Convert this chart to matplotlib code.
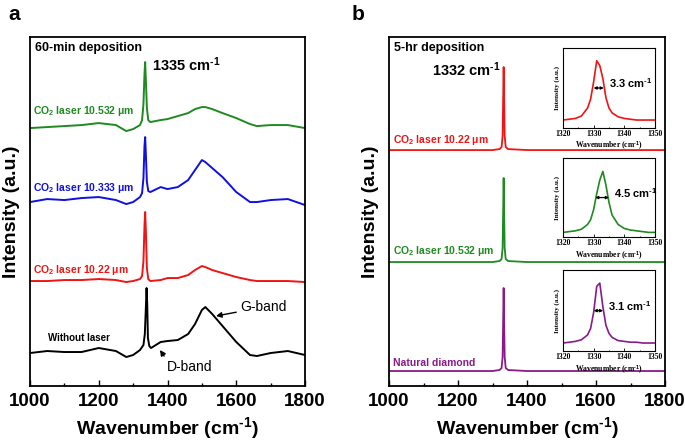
import matplotlib
matplotlib.use("Agg")
import matplotlib.pyplot as plt
from matplotlib.ticker import MultipleLocator

plt.rcParams['font.family'] = ['Liberation Sans', 'DejaVu Sans']
plt.rcParams['font.weight'] = 'bold'
plt.rcParams['mathtext.fontset'] = 'custom'
plt.rcParams['mathtext.rm'] = 'Liberation Sans:bold'
plt.rcParams['mathtext.it'] = 'Liberation Sans:bold'
plt.rcParams['mathtext.bf'] = 'Liberation Sans:bold'
plt.rcParams['mathtext.default'] = 'rm'

# ---------------- Panel a data (60-min deposition) ----------------
x_a = [1000, 1050, 1100, 1150, 1200, 1250, 1280, 1300, 1320, 1326, 1330, 1333,
       1335, 1337, 1340, 1344, 1350, 1380, 1400, 1430, 1460, 1480, 1500, 1510,
       1530, 1560, 1600, 1640, 1660, 1700, 1750, 1800]
x_black = [1000, 1050, 1100, 1150, 1200, 1250, 1280, 1300, 1320, 1330, 1334, 1337,
           1339, 1341, 1343, 1347, 1352, 1380, 1400, 1430, 1460, 1480, 1500, 1510,
           1530, 1560, 1600, 1640, 1660, 1700, 1750, 1800]
y_without = [33, 35, 34, 34, 38, 35, 29, 31, 36, 41, 52, 78, 98, 82, 48, 40, 38, 44, 45,
             46, 52, 62, 76, 79, 72, 60, 44, 31, 30, 33, 35, 31]
y_1022 = [105, 105, 106, 106, 107, 106, 104, 105, 107, 110, 125, 160, 174, 155, 118,
          107, 105, 106, 108, 108, 111, 116, 120, 119, 116, 113, 109, 106, 105, 105, 105, 104]
y_10333 = [184, 187, 186, 188, 189, 186, 182, 184, 189, 193, 208, 240, 249, 232, 204,
           195, 194, 199, 197, 199, 206, 216, 226, 224, 218, 209, 194, 184, 184, 186, 187, 181]
y_10532 = [258, 259, 260, 261, 263, 261, 255, 257, 261, 266, 282, 312, 324, 306, 278,
           266, 264, 266, 267, 270, 273, 277, 279, 279, 277, 273, 268, 262, 260, 261, 261, 258]

# ---------------- Panel b data (5-hr deposition) ----------------
x_b = [1000, 1100, 1200, 1300, 1320, 1326, 1329, 1330.5, 1332, 1333.5, 1335, 1338,
       1345, 1400, 1500, 1600, 1700, 1800]
y_b_1022 = [236, 236, 236, 236, 237, 239, 250, 285, 319, 285, 250, 239, 237, 236, 236, 236, 236, 236]
y_b_10532 = [124, 124, 124, 124, 125, 127, 138, 173, 208, 173, 138, 127, 125, 124, 124, 124, 124, 124]
y_b_natural = [15, 15, 15, 15, 16, 18, 29, 63, 98, 63, 29, 18, 16, 15, 15, 15, 15, 15]

# ---------------- Insets (normalized intensity) ----------------
x_in = [1320, 1322, 1324, 1326, 1328, 1329, 1330, 1331, 1332, 1333, 1334, 1335,
        1336, 1338, 1340, 1342, 1344, 1346, 1348, 1350]
in_1022 = [0.10, 0.11, 0.12, 0.15, 0.25, 0.36, 0.58, 0.84, 0.78, 0.62, 0.38, 0.25,
           0.19, 0.14, 0.12, 0.11, 0.10, 0.10, 0.10, 0.10]
in_10532 = [0.06, 0.07, 0.08, 0.10, 0.16, 0.22, 0.35, 0.55, 0.72, 0.83, 0.66, 0.44,
            0.28, 0.16, 0.11, 0.09, 0.08, 0.07, 0.06, 0.06]
in_natural = [0.10, 0.11, 0.12, 0.14, 0.20, 0.28, 0.48, 0.80, 0.84, 0.55, 0.32, 0.22,
              0.17, 0.13, 0.12, 0.11, 0.11, 0.10, 0.10, 0.10]
fwhm_1022 = (1330.0, 1333.3)
fwhm_10532 = (1330.5, 1335.0)
fwhm_natural = (1330.0, 1333.1)
fwhm_labels = ["3.3 cm$^{\u2010 1}$", "4.5 cm$^{\u2010 1}$", "3.1 cm$^{\u2010 1}$"]

xticks_main = [1000, 1200, 1400, 1600, 1800]
xticks_inset = [1320, 1330, 1340, 1350]

GREEN = '#1f8a1f'
BLUE = '#1010e0'
RED = '#f01414'
PURPLE = '#8a1a8a'

SUP = "$^{\u2010 1}$"

fig = plt.figure(figsize=(6.85, 4.4), dpi=100)
axa = fig.add_axes([0.0438, 0.1227, 0.4015, 0.793])
axb = fig.add_axes([0.568, 0.1227, 0.403, 0.793])


def style_main(ax):
    ax.set_xlim(1000, 1800)
    ax.set_ylim(0, 349)
    ax.set_xticks(xticks_main)
    ax.xaxis.set_minor_locator(MultipleLocator(100))
    ax.set_yticks([])
    ax.tick_params(axis='x', which='major', direction='in', length=4, width=1,
                   labelsize=13.5, pad=5)
    ax.tick_params(axis='x', which='minor', direction='in', length=2.5, width=1)
    for lab in ax.get_xticklabels():
        lab.set_fontweight('bold')
    for s in ax.spines.values():
        s.set_linewidth(1.3)
    ax.set_xlabel('Wavenumber (cm' + SUP + ')', fontsize=14, fontweight='bold', labelpad=4)
    ax.set_ylabel('Intensity (a.u.)', fontsize=14, fontweight='bold', labelpad=7)


# Panel a
axa.plot(x_black, y_without, color='black', lw=1.4)
axa.plot(x_a, y_1022, color=RED, lw=1.4)
axa.plot(x_a, y_10333, color=BLUE, lw=1.4)
axa.plot(x_a, y_10532, color=GREEN, lw=1.4)
style_main(axa)

axa.text(0.018, 0.985, '60-min deposition', transform=axa.transAxes, ha='left', va='top',
         fontsize=9, fontweight='bold')
axa.text(1355, 321, '1335 cm' + SUP, ha='left', va='center', fontsize=10.5, fontweight='bold')
axa.text(1010, 275, 'CO$_2$ laser 10.532 μm', color=GREEN, ha='left', va='center',
         fontsize=7.5, fontweight='bold')
axa.text(1010, 198, 'CO$_2$ laser 10.333 μm', color=BLUE, ha='left', va='center',
         fontsize=7.5, fontweight='bold')
axa.text(1010, 116, 'CO$_2$ laser 10.22 μm', color=RED, ha='left', va='center',
         fontsize=7.5, fontweight='bold')
axa.text(1052, 48, 'Without laser', color='black', ha='left', va='center',
         fontsize=7, fontweight='bold')
axa.annotate('G-band', xy=(1541, 70), xytext=(1612, 79), ha='left', va='center',
             fontsize=10, fontweight='normal',
             arrowprops=dict(arrowstyle='-|>', color='black', lw=1, shrinkA=1, shrinkB=0,
                             mutation_scale=8))
axa.annotate('D-band', xy=(1378, 36), xytext=(1398, 19), ha='left', va='center',
             fontsize=10, fontweight='normal',
             arrowprops=dict(arrowstyle='-|>', color='black', lw=1, shrinkA=1, shrinkB=0,
                             mutation_scale=8, relpos=(0.0, 1.0)))

# Panel b
axb.plot(x_b, y_b_1022, color=RED, lw=1.3)
axb.plot(x_b, y_b_10532, color=GREEN, lw=1.3)
axb.plot(x_b, y_b_natural, color=PURPLE, lw=1.3)
style_main(axb)
axb.text(0.018, 0.985, '5-hr deposition', transform=axb.transAxes, ha='left', va='top',
         fontsize=9, fontweight='bold')
axb.text(1125, 316, '1332 cm' + SUP, ha='left', va='center', fontsize=10.5, fontweight='bold')
axb.text(1012, 246, 'CO$_2$ laser 10.22 μm', color=RED, ha='left', va='center',
         fontsize=7.5, fontweight='bold')
axb.text(1012, 135, 'CO$_2$ laser 10.532 μm', color=GREEN, ha='left', va='center',
         fontsize=7.5, fontweight='bold')
axb.text(1012, 23, 'Natural diamond', color=PURPLE, ha='left', va='center',
         fontsize=7.5, fontweight='bold')

# Insets
inset_specs = [
    ([0.822, 0.709, 0.134, 0.182], in_1022, RED, fwhm_1022, fwhm_labels[0]),
    ([0.822, 0.461, 0.134, 0.180], in_10532, GREEN, fwhm_10532, fwhm_labels[1]),
    ([0.822, 0.202, 0.134, 0.184], in_natural, PURPLE, fwhm_natural, fwhm_labels[2]),
]
serif = ['Liberation Serif', 'DejaVu Serif']
for rect, ydat, col, (f1, f2), lab in inset_specs:
    ax = fig.add_axes(rect)
    ax.plot(x_in, ydat, color=col, lw=1.2)
    ax.set_xlim(1320, 1350)
    ax.set_ylim(0, 1)
    ax.set_xticks(xticks_inset)
    ax.xaxis.set_minor_locator(MultipleLocator(5))
    ax.set_yticks([])
    ax.tick_params(axis='x', which='major', direction='in', length=2, width=0.6,
                   labelsize=5.5, pad=1.5)
    ax.tick_params(axis='x', which='minor', direction='in', length=1, width=0.6)
    for t in ax.get_xticklabels():
        t.set_family(serif)
        t.set_fontweight('bold')
    for s in ax.spines.values():
        s.set_linewidth(0.8)
    ax.set_xlabel('Wavenumber (cm' + SUP + ')', fontsize=5.5, family=serif,
                  fontweight='bold', labelpad=1)
    ax.set_ylabel('Intensity (a.u.)', fontsize=5, family=serif, fontweight='bold', labelpad=2)
    ax.annotate('', xy=(f1, 0.5), xytext=(f2, 0.5),
                arrowprops=dict(arrowstyle='<|-|>', color='black', lw=0.9,
                                mutation_scale=4, shrinkA=0, shrinkB=0))
    ax.text(f2 + 1.6, 0.56, lab, ha='left', va='center', fontsize=8, fontweight='bold')

fig.text(8 / 685, 1 - 14 / 440, 'a', fontsize=15, fontweight='bold', ha='left', va='center')
fig.text(352 / 685, 1 - 14 / 440, 'b', fontsize=15, fontweight='bold', ha='left', va='center')

fig.savefig('out.png', dpi=100)
